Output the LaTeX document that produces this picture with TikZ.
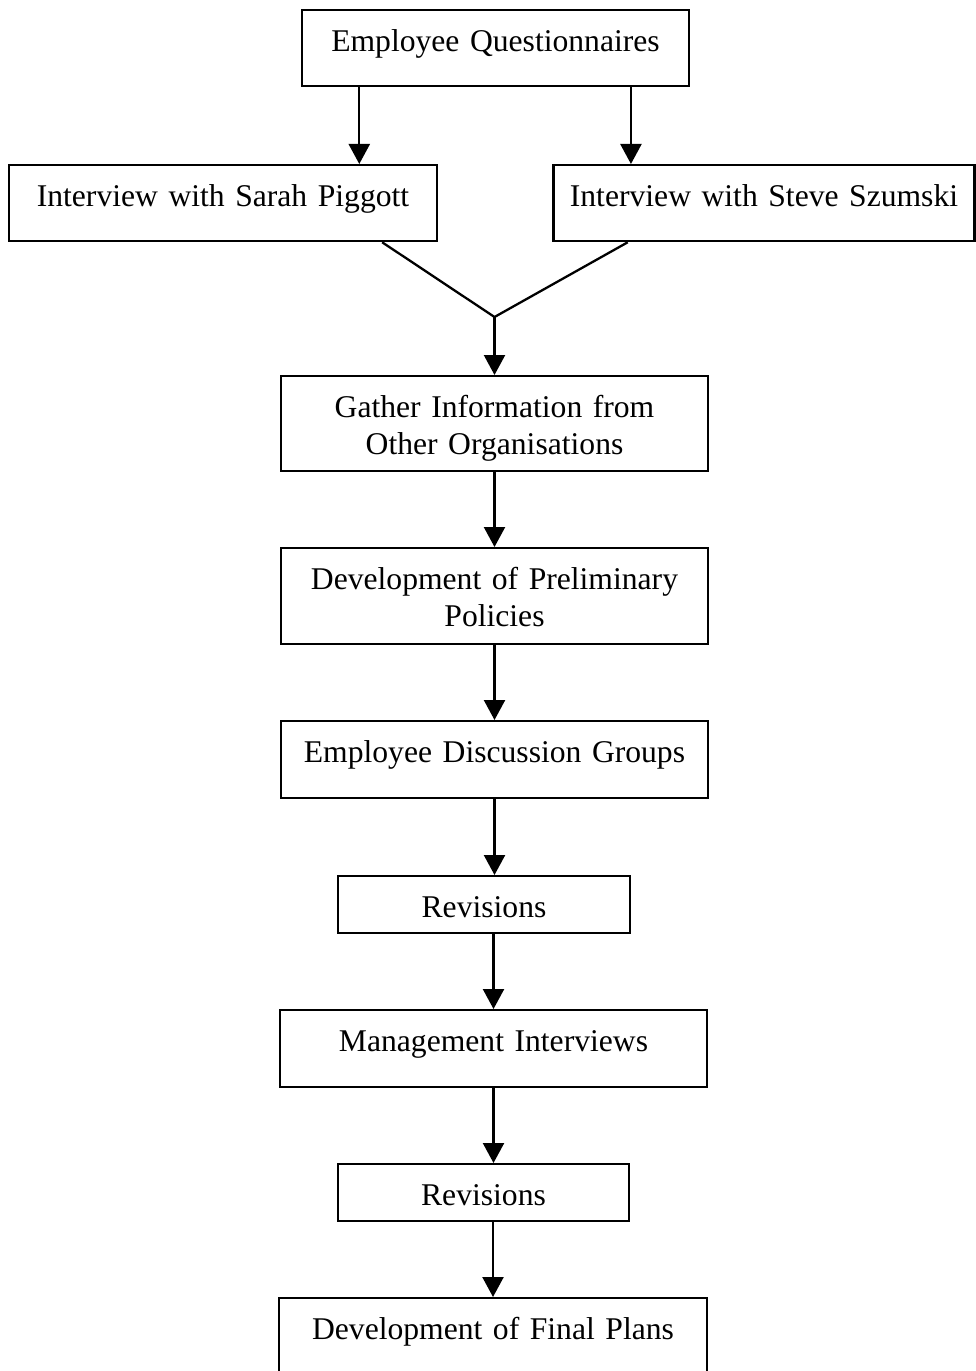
\documentclass[tikz,border=0pt]{standalone}
\usepackage{fontspec}
\setmainfont{Liberation Serif}
\usetikzlibrary{arrows.meta,calc,positioning}
\begin{document}
\begin{tikzpicture}[x=0.02cm,y=-0.02cm,
  box/.style={draw,line width=1.3pt,anchor=north,inner sep=0pt,align=center,
    font=\fontsize{18}{21.5}\selectfont,text height=0.82cm},
  arr/.style={-{Triangle[length=0.4cm,width=0.42cm]},line width=1.3pt}]
\useasboundingbox (0,0) rectangle (975,1371);
\node [box,text width=7.74cm,text depth=0.70cm] (quest) at (495.5,9) {Employee Questionnaires};
\node [box,text width=8.56cm,text depth=0.70cm] (sarah) at (223,164) {Interview with Sarah Piggott};
\node [box,text width=8.42cm,text depth=0.70cm] (steve) at (764,164) {Interview with Steve Szumski};
\node [box,text width=8.54cm,text depth=1.08cm] (gather) at (494.5,375) {Gather Information from\\Other Organisations};
\node [box,text width=8.54cm,text depth=1.10cm] (prelim) at (494.5,547) {Development of Preliminary\\Policies};
\node [box,text width=8.54cm,text depth=0.72cm] (discuss) at (494.5,720) {Employee Discussion Groups};
\node [box,text width=5.84cm,text depth=0.32cm] (revA) at (484,875) {Revisions};
\node [box,text width=8.54cm,text depth=0.72cm] (manage) at (493.5,1009) {Management Interviews};
\node [box,text width=5.82cm,text depth=0.32cm] (revB) at (483.5,1163) {Revisions};
\node [box,text width=8.56cm,text depth=0.80cm] (final) at (493,1297) {Development of Final Plans};

\coordinate (qa) at ($(quest.south west)!0.15!(quest.south east)$);
\coordinate (qb) at ($(quest.south west)!0.848!(quest.south east)$);
\draw [arr] (qa) to (qa |- sarah.north);
\draw [arr] (qb) to (qb |- steve.north);
\coordinate (sa) at ($(sarah.south west)!0.87!(sarah.south east)$);
\coordinate (sb) at ($(steve.south west)!0.178!(steve.south east)$);
\coordinate (meet) at ([yshift=1.16cm]gather.north);
\draw [line width=1.3pt] (sa) to (meet) to (sb);
\draw [arr] (meet) to (gather.north);
\draw [arr] (gather) to (prelim);
\draw [arr] (prelim) to (discuss);
\draw [arr] (discuss.south) to (discuss.south |- revA.north);
\draw [arr] (revA.south -| manage.north) to (manage.north);
\draw [arr] (manage.south) to (manage.south |- revB.north);
\draw [arr] (revB.south -| final.north) to (final.north);
\end{tikzpicture}
\end{document}
